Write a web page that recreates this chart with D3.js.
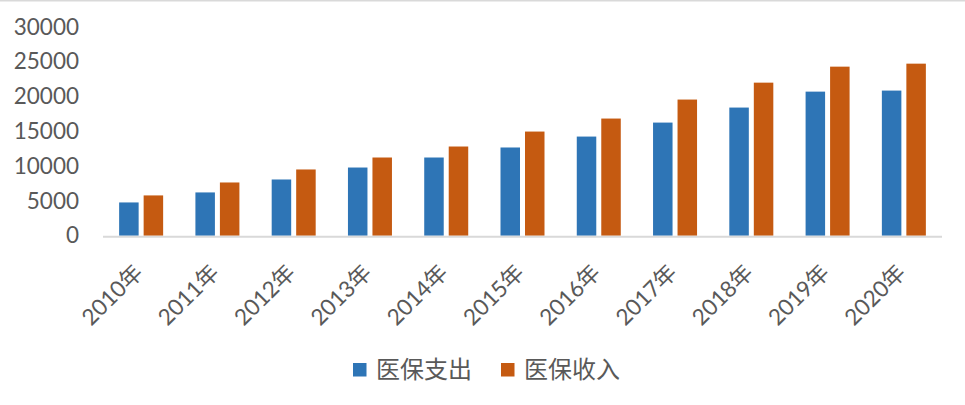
<!DOCTYPE html>
<html>
<head>
<meta charset="utf-8">
<script src="https://cdn.jsdelivr.net/npm/d3@7"></script>
<style>
  html, body { margin: 0; padding: 0; background: #fff; }
  svg { display: block; }
  text { font-family: "Lato", "Noto Sans CJK SC", sans-serif; fill: #595959; }
</style>
</head>
<body>
<svg id="chart" width="965" height="405"></svg>
<script>
const categories = ["2010年","2011年","2012年","2013年","2014年","2015年","2016年","2017年","2018年","2019年","2020年"];
const seriesNames = ["医保支出","医保收入"];
const expenditure = [4780, 6220, 8080, 9800, 11240, 12680, 14250, 16260, 18420, 20710, 20860];
const income = [5790, 7650, 9520, 11240, 12820, 14970, 16840, 19570, 22000, 24300, 24730];
const yTicks = [0, 5000, 10000, 15000, 20000, 25000, 30000];
const colors = ["#2E75B6", "#C55A11"];

const svg = d3.select("#chart");
const W = 965, H = 405;
const plotLeft = 103, plotRight = 942, plotTop = 27, plotBottom = 235.7;

// top border line
svg.append("line").attr("x1", 0).attr("x2", W).attr("y1", 0.75).attr("y2", 0.75)
  .attr("stroke", "#D9D9D9").attr("stroke-width", 1.5);

const x = d3.scaleBand().domain(categories).range([plotLeft, plotRight]).paddingInner(0).paddingOuter(0);
const groupW = 44;
const xs = d3.scaleBand().domain(seriesNames)
  .range([x.bandwidth()/2 - groupW/2, x.bandwidth()/2 + groupW/2]).paddingInner(0.204);
const y = d3.scaleLinear().domain([0, 30000]).range([plotBottom, plotTop]);

const data = categories.map((c, i) => ({cat: c, vals: [expenditure[i], income[i]]}));

const g = svg.append("g");
const groups = g.selectAll("g.grp").data(data).join("g")
  .attr("class", "grp")
  .attr("transform", d => `translate(${x(d.cat)},0)`);
groups.selectAll("rect").data(d => d.vals.map((v, j) => ({name: seriesNames[j], v, j}))).join("rect")
  .attr("x", d => xs(d.name))
  .attr("width", xs.bandwidth())
  .attr("y", d => y(d.v))
  .attr("height", d => y(0) - y(d.v))
  .attr("fill", d => colors[d.j]);

// baseline
svg.append("line").attr("x1", plotLeft).attr("x2", plotRight).attr("y1", plotBottom + 1).attr("y2", plotBottom + 1)
  .attr("stroke", "#D9D9D9").attr("stroke-width", 2);

// y axis
const yAxis = d3.axisLeft(y).tickValues(yTicks).tickSize(0).tickPadding(24).tickFormat(d3.format("d"));
const ya = svg.append("g").attr("transform", `translate(${plotLeft},0)`).call(yAxis);
ya.select(".domain").remove();
ya.selectAll("text").style("font-size", "22.5px").style("fill", "#595959")
  .style("font-family", "Lato, 'Noto Sans CJK SC', sans-serif");

// x labels
svg.append("g").selectAll("text").data(categories).join("text")
  .attr("transform", d => `translate(${x(d) + x.bandwidth()/2 + 3},274) rotate(-45)`)
  .attr("text-anchor", "end")
  .style("font-size", "22.5px")
  .text(d => d);

// legend
const legend = svg.append("g");
const legendItems = [{name: seriesNames[0], x: 353, c: colors[0]}, {name: seriesNames[1], x: 501, c: colors[1]}];
legendItems.forEach(it => {
  legend.append("rect").attr("x", it.x).attr("y", 363).attr("width", 13.5).attr("height", 13.5).attr("fill", it.c);
  legend.append("text").attr("x", it.x + 23).attr("y", 370).attr("dy", "0.35em")
    .style("font-size", "24px").text(it.name);
});
</script>
</body>
</html>
